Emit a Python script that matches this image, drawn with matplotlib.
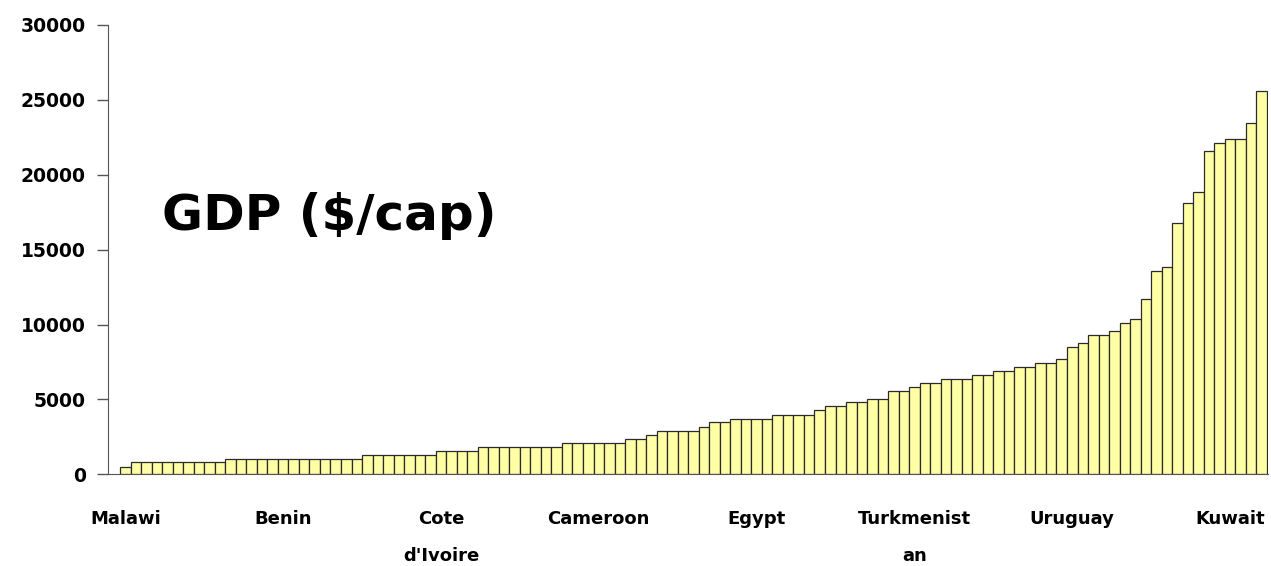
import numpy as np
import matplotlib
matplotlib.use('Agg')
import matplotlib.pyplot as plt

# GDP per capita, countries sorted from poorest to richest
gdp = [500] + [790] * 9 + [1040] * 13 + [1310] * 7 + [1570] * 4 + [1840] * 8 \
    + [2110] * 6 + [2390] * 2 + [2650] + [2920] * 4 + [3190] + [3460] * 2 \
    + [3720] * 4 + [3990] * 4 + [4260] + [4530] * 2 + [4800] * 2 + [5060] * 2 \
    + [5550] * 2 + [5820] + [6090] * 2 + [6360] * 3 + [6630] * 2 + [6890] * 2 \
    + [7160] * 2 + [7430] * 2 + [7700, 8500, 8770, 9300, 9300, 9550, 10110, 10370,
                                 11710, 13560, 13830, 16750, 18090, 18870, 21550,
                                 22090, 22360, 22360, 23450, 25570]

# only every 15th country is named on the axis
shown_countries = ['Malawi', 'Benin', 'Cote\nd\'Ivoire', 'Cameroon', 'Egypt',
                   'Turkmenist\nan', 'Uruguay', 'Kuwait']
label_every = 15

y_ticks = [0, 5000, 10000, 15000, 20000, 25000, 30000]

fig = plt.figure(figsize=(12.71, 5.66), dpi=100)
ax = fig.add_axes([0.085, 0.162, 0.9126, 0.794])

x = np.arange(len(gdp))
ax.bar(x, gdp, width=1.0, color='#ffffa6', edgecolor='#2b2b2b', linewidth=0.9)

ax.set_xlim(-1.64, len(gdp) - 0.4)
ax.set_ylim(0, 30000)
ax.set_yticks(y_ticks)
ax.set_yticklabels([str(t) for t in y_ticks], fontsize=13.5, fontweight='bold')
ax.set_xticks(x[::label_every][:len(shown_countries)])
ax.set_xticklabels(shown_countries, fontsize=13, fontweight='bold', linespacing=2.35, va='top')

ax.tick_params(axis='y', length=8, width=1, color='#555555', pad=8, direction='out')
ax.tick_params(axis='x', length=0, pad=26)

for side in ['top', 'right']:
    ax.spines[side].set_visible(False)
ax.spines['left'].set_color('#555555')
ax.spines['bottom'].set_color('#555555')

fig.text(329 / 1271, 1 - 230 / 566, 'GDP ($/cap)', fontsize=36, fontweight='bold',
         ha='center', va='baseline')

fig.savefig('out.png', dpi=100)
